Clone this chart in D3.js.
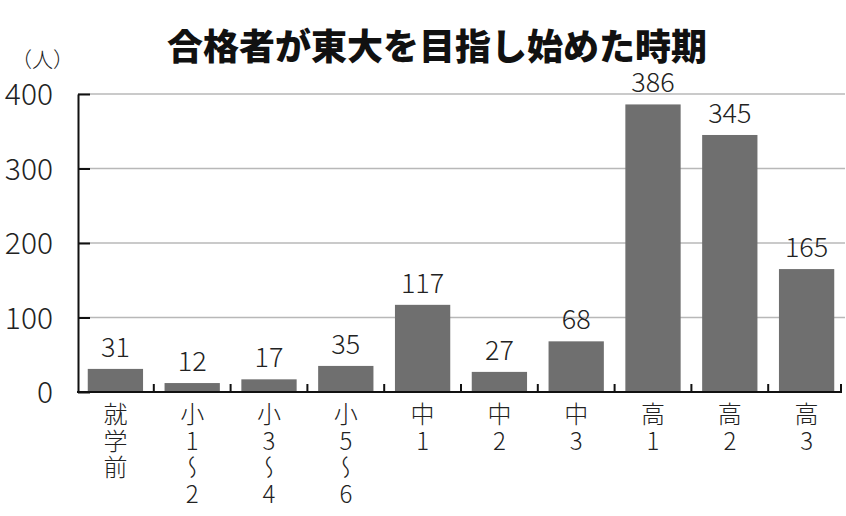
<!DOCTYPE html>
<html><head><meta charset="utf-8">
<script src="https://cdn.jsdelivr.net/npm/d3@7"></script>
<style>
html,body{margin:0;padding:0;background:#fff;}
svg text{font-family:"Noto Sans CJK JP","Noto Sans",sans-serif;}
.vlabel{writing-mode:vertical-rl;text-orientation:upright;}
</style></head>
<body>
<svg id="chart" width="846" height="516"></svg>
<script>
const title = "合格者が東大を目指し始めた時期";
const unitLabel = "（人）";
const categories = ["就学前","小1〜2","小3〜4","小5〜6","中1","中2","中3","高1","高2","高3"];
const values = [31,12,17,35,117,27,68,386,345,165];
const yTicks = [0,100,200,300,400];

const svg = d3.select("#chart");
const x = d3.scaleBand().domain(categories).range([77,845]).paddingInner(0.28).paddingOuter(0.14);
const y = d3.scaleLinear().domain([0,400]).range([392,94]);

// title
svg.append("text").attr("x",437).attr("y",60).attr("text-anchor","middle")
  .attr("font-size",36).attr("font-weight",900).attr("fill","#111").text(title);
svg.append("text").attr("x",11).attr("y",67).attr("font-size",21).attr("font-weight",300).attr("fill","#222").text(unitLabel);

// gridlines
svg.append("g").selectAll("line").data(yTicks.filter(d=>d>0)).join("line")
  .attr("x1",78).attr("x2",845).attr("y1",d=>y(d)).attr("y2",d=>y(d))
  .attr("stroke","#b8b8b8").attr("stroke-width",1.6);

// bars
svg.append("g").selectAll("rect").data(values).join("rect")
  .attr("x",(d,i)=>x(categories[i])).attr("width",x.bandwidth())
  .attr("y",d=>y(d)).attr("height",d=>y(0)-y(d)).attr("fill","#6f6f6f");

// y axis
const yAxis = d3.axisLeft(y).tickValues(yTicks).tickSizeInner(-12).tickSizeOuter(0).tickPadding(25);
const gy = svg.append("g").attr("transform","translate(78,0)").call(yAxis);
gy.select(".domain").attr("stroke","#111").attr("stroke-width",2);
gy.selectAll(".tick line").attr("stroke","#111").attr("stroke-width",2);
gy.selectAll(".tick text").attr("font-size",30).attr("font-weight",300).attr("fill","#222").attr("dy","0.36em")
  .attr("font-family","\"Noto Sans CJK JP\",sans-serif");

// x axis baseline with upward ticks at band boundaries
const step = x.step();
const boundaries = categories.map((c,i)=>x(c)+x.bandwidth()+ (step-x.bandwidth())/2);
svg.append("line").attr("x1",77).attr("x2",842).attr("y1",y(0)).attr("y2",y(0))
  .attr("stroke","#111").attr("stroke-width",2);
svg.append("g").selectAll("line").data(boundaries).join("line")
  .attr("x1",d=>Math.min(d,841)).attr("x2",d=>Math.min(d,841)).attr("y1",y(0)).attr("y2",y(0)-8)
  .attr("stroke","#111").attr("stroke-width",2);

// value labels
svg.append("g").selectAll("text").data(values).join("text")
  .attr("x",(d,i)=>x(categories[i])+x.bandwidth()/2).attr("y",d=>y(d)-12)
  .attr("text-anchor","middle").attr("font-size",27).attr("font-weight",300).attr("fill","#222").text(d=>d);

// category labels (vertical writing)
svg.append("g").selectAll("text").data(categories).join("text")
  .attr("class","vlabel")
  .attr("x",d=>x(d)+x.bandwidth()/2).attr("y",402)
  .attr("font-size",24).attr("font-weight",300).attr("letter-spacing",2.5)
  .attr("fill","#222").text(d=>d);
</script>
</body></html>
